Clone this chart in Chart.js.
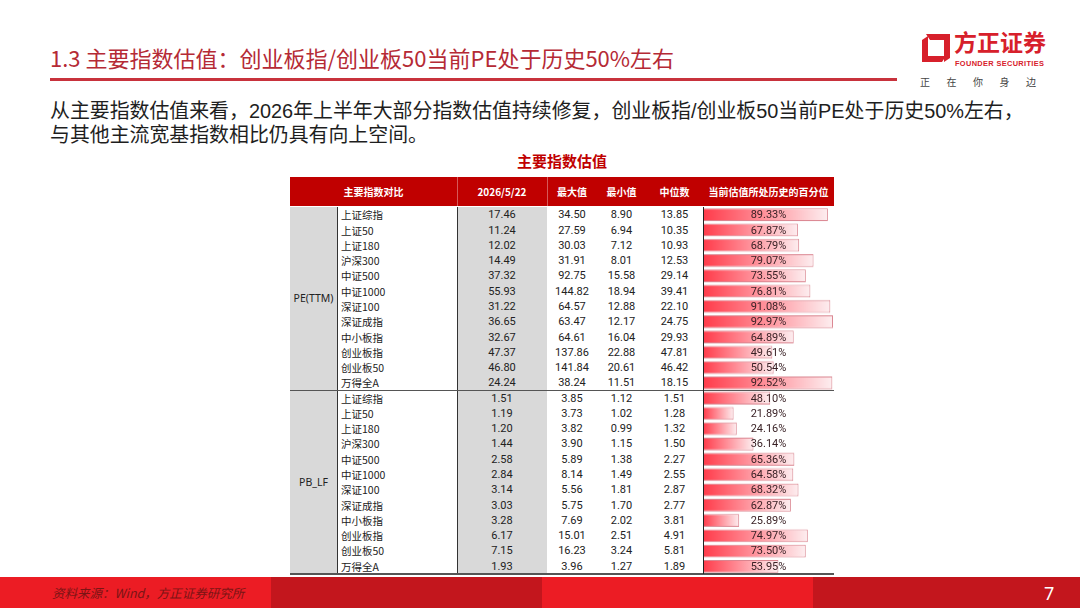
<!DOCTYPE html>
<html>
<head>
<meta charset="utf-8">
<script src="https://cdn.jsdelivr.net/npm/chart.js@4.4.0/dist/chart.umd.min.js"></script>
<style>
  html,body{margin:0;padding:0;background:#fff;}
  body{width:1080px;height:608px;position:relative;overflow:hidden;font-family:"Noto Sans CJK SC","Noto Sans",sans-serif;}
  .abs{position:absolute;}
  #title{left:50px;top:42px;font-size:22px;color:#b52a35;white-space:nowrap;line-height:30px;}
  #rule{left:50px;top:78px;width:847px;height:3px;background:#c8323c;}
  .para{left:50px;font-family:"Liberation Sans","Noto Sans CJK SC",sans-serif;font-size:19.9px;color:#1e1e1e;line-height:22px;height:22px;white-space:nowrap;}
  #caption{left:0;width:1124px;text-align:center;top:151px;font-size:15px;font-weight:bold;color:#c00000;line-height:20px;}
  .hdr{position:absolute;top:177px;height:29px;line-height:29px;color:#fff;font-weight:bold;font-size:10px;text-align:center;}
  .cell{position:absolute;font-size:10.5px;color:#222;white-space:nowrap;}
  .num{font-family:"Liberation Sans Narrow","Roboto","Noto Sans",sans-serif;font-size:11px;text-align:center;}
  .foot{position:absolute;top:577px;height:31px;}
</style>
</head>
<body>
<div id="title" class="abs">1.3&nbsp;主要指数估值：创业板指/创业板50当前PE处于历史50%左右</div>
<div id="rule" class="abs"></div>

<svg class="abs" style="left:920px;top:32px" width="32" height="32" viewBox="0 0 32 32">
  <polygon points="6,2 30,2 30,26 24,30 24,8 10,8" fill="#d7202b"/>
  <polygon points="2,8 8,4 8,24 26,24 22,30 2,30" fill="#d7202b"/>
</svg>
<div class="abs" style="left:954px;top:31px;font-family:'Liberation Sans','Noto Sans CJK SC',sans-serif;font-size:23px;font-weight:bold;color:#d7202b;line-height:24px;height:24px;">方正证券</div>
<div class="abs" style="left:955px;top:59px;font-family:'Liberation Sans',sans-serif;font-size:7.4px;font-weight:bold;color:#d7202b;line-height:9px;letter-spacing:0.35px;">FOUNDER SECURITIES</div>
<div class="abs" style="left:920px;top:75px;font-size:10px;color:#444;line-height:14px;letter-spacing:16.5px;">正在你身边</div>

<div class="abs para" style="top:100px;">从主要指数估值来看，2026年上半年大部分指数估值持续修复，创业板指/创业板50当前PE处于历史50%左右，</div>
<div class="abs para" style="top:124px;">与其他主流宽基指数相比仍具有向上空间。</div>

<div id="caption" class="abs">主要指数估值</div>

<div id="table"></div>
<canvas id="bars" class="abs" style="left:703px;top:207.4px;"></canvas>
<div id="labels"></div>

<div class="foot" style="left:0;width:271px;background:#ec1c24;"></div>
<div class="foot" style="left:271px;width:271px;background:#c3161d;"></div>
<div class="foot" style="left:542px;width:271px;background:#ec1c24;"></div>
<div class="foot" style="left:813px;width:267px;background:#c3161d;"></div>
<div class="abs" style="left:52px;top:583px;font-size:12.5px;font-style:italic;color:#7a1414;line-height:20px;font-family:'Noto Sans CJK SC',serif;">资料来源：Wind，方正证券研究所</div>
<div class="abs" style="left:1044px;top:580px;font-size:18px;color:#fff;line-height:26px;font-family:'Noto Sans',sans-serif;">7</div>

<script>
// ---- data ----
const indexNames = ['上证综指','上证50','上证180','沪深300','中证500','中证1000','深证100','深证成指','中小板指','创业板指','创业板50','万得全A'];
const groups = ['PE(TTM)','PB_LF'];
const headers = ['主要指数对比','2026/5/22','最大值','最小值','中位数','当前估值所处历史的百分位'];

const peCurrent = [17.46,11.24,12.02,14.49,37.32,55.93,31.22,36.65,32.67,47.37,46.80,24.24];
const peMax     = [34.50,27.59,30.03,31.91,92.75,144.82,64.57,63.47,64.61,137.86,141.84,38.24];
const peMin     = [8.90,6.94,7.12,8.01,15.58,18.94,12.88,12.17,16.04,22.88,20.61,11.51];
const peMedian  = [13.85,10.35,10.93,12.53,29.14,39.41,22.10,24.75,29.93,47.81,46.42,18.15];
const pePct     = [89.33,67.87,68.79,79.07,73.55,76.81,91.08,92.97,64.89,49.61,50.54,92.52];

const pbCurrent = [1.51,1.19,1.20,1.44,2.58,2.84,3.14,3.03,3.28,6.17,7.15,1.93];
const pbMax     = [3.85,3.73,3.82,3.90,5.89,8.14,5.56,5.75,7.69,15.01,16.23,3.96];
const pbMin     = [1.12,1.02,0.99,1.15,1.38,1.49,1.81,1.70,2.02,2.51,3.24,1.27];
const pbMedian  = [1.51,1.28,1.32,1.50,2.27,2.55,2.87,2.77,3.81,4.91,5.81,1.89];
const pbPct     = [48.10,21.89,24.16,36.14,65.36,64.58,68.32,62.87,25.89,74.97,73.50,53.95];

// ---- layout ----
const X = {g0:290,g1:337,n1:457,d1:547,mx1:597,mn1:646,md1:703,p1:834};
const TOP = 207.4, RH = 15.27, N = 24;
const tbl = document.getElementById('table');
function box(l,t,w,h,style){const d=document.createElement('div');d.className='abs';d.style.cssText=`left:${l}px;top:${t}px;width:${w}px;height:${h}px;`+(style||'');tbl.appendChild(d);return d;}
function txt(l,t,w,h,s,cls,style){const d=box(l,t,w,h,'line-height:'+h+'px;'+(style||''));d.className='cell '+(cls||'');d.textContent=s;return d;}

// header
box(X.g0,177,X.p1-X.g0,29,'background:#c00000;');
const hcols=[[X.g0,X.n1],[X.n1,X.d1],[X.d1,X.mx1],[X.mx1,X.mn1],[X.mn1,X.md1],[X.md1,X.p1]];
hcols.forEach((c,i)=>{const d=document.createElement('div');d.className='hdr';d.style.left=c[0]+'px';d.style.width=(c[1]-c[0])+'px';d.textContent=headers[i];tbl.appendChild(d);});
box(X.n1,177,1,29,'background:rgba(255,255,255,0.35);');
box(X.d1,177,1,29,'background:rgba(255,255,255,0.35);');

// grey columns
const bodyH = RH*N;
box(X.g0,TOP,X.g1-X.g0,bodyH,'background:#d9d9d9;');
box(X.n1,TOP,X.d1-X.n1,bodyH,'background:#d9d9d9;');

const cur = peCurrent.concat(pbCurrent), mx = peMax.concat(pbMax), mn = peMin.concat(pbMin), md = peMedian.concat(pbMedian), pct = pePct.concat(pbPct);
const allNames = indexNames.concat(indexNames);
for(let i=0;i<N;i++){
  const t = TOP+RH*i;
  txt(X.g1+4,t,X.n1-X.g1-4,RH,allNames[i],'');
  txt(X.n1,t,X.d1-X.n1,RH,cur[i].toFixed(2),'num');
  txt(X.d1,t,X.mx1-X.d1,RH,mx[i].toFixed(2),'num');
  txt(X.mx1,t,X.mn1-X.mx1,RH,mn[i].toFixed(2),'num');
  txt(X.mn1,t,X.md1-X.mn1,RH,md[i].toFixed(2),'num');
}
groups.forEach((g,k)=>{txt(X.g0,TOP+RH*12*k,X.g1-X.g0,RH*12,g,'','text-align:center;font-family:"Noto Sans",sans-serif;font-size:10.5px;');});

// lines
box(X.g1,TOP,1,bodyH,'background:#333;');
box(X.n1,TOP,1,bodyH,'background:#333;');
box(X.g0,TOP+RH*12-0.5,X.p1-X.g0,1,'background:#555;');
box(X.g0,TOP+bodyH-0.5,X.p1-X.g0,1.2,'background:#555;');

// percent labels
const lab = document.getElementById('labels');
for(let i=0;i<N;i++){
  const d=document.createElement('div');d.className='cell num';
  d.style.cssText=`left:${X.md1}px;top:${TOP+RH*i}px;width:${X.p1-X.md1}px;height:${RH}px;line-height:${RH}px;z-index:5;color:#3a2226;`;
  d.textContent=pct[i].toFixed(2)+'%';
  lab.appendChild(d);
}

// ---- chart ----
const cv = document.getElementById('bars');
cv.width = X.p1-X.md1; cv.height = bodyH;
cv.style.width = cv.width+'px'; cv.style.height = bodyH+'px';
new Chart(cv, {
  type:'bar',
  data:{
    labels: allNames.map((n,i)=>(i<12?'PE ':'PB ')+n),
    datasets:[{
      data: pct,
      backgroundColor: (c)=>{
        const ch=c.chart, sx=ch.scales && ch.scales.x;
        if(!ch.chartArea || !sx || typeof c.raw!=='number') return '#ff6070';
        const x0=sx.getPixelForValue(0), x1=sx.getPixelForValue(c.raw);
        const g=ch.ctx.createLinearGradient(x0,0,x1,0);
        g.addColorStop(0,'#ff3b4a');
        g.addColorStop(0.45,'#ff8a94');
        g.addColorStop(1,'#fdeef0');
        return g;
      },
      borderColor:'rgba(214,120,132,0.9)',
      borderWidth:1,
      borderSkipped:false,
      barPercentage:0.84,
      categoryPercentage:1.0
    }]
  },
  options:{
    responsive:false,
    animation:false,
    indexAxis:'y',
    layout:{padding:0},
    plugins:{legend:{display:false},tooltip:{enabled:false}},
    scales:{
      x:{display:false,min:0,max:93.7},
      y:{display:false}
    }
  }
});
// left axis line of percent column above bars
box(X.md1,TOP,1,bodyH,'background:#222;z-index:4;');
</script>
</body>
</html>
